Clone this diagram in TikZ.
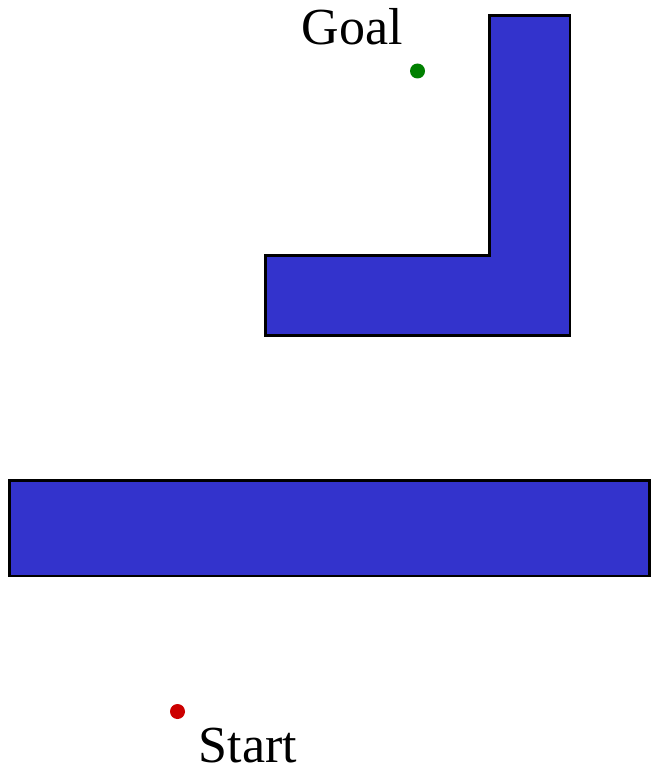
\documentclass[tikz,border=0pt]{standalone}
\usepackage{fontspec}
\setmainfont{Liberation Serif}
\definecolor{obsblue}{HTML}{3333CC}
\definecolor{goalgreen}{HTML}{008000}
\definecolor{startred}{HTML}{CC0000}
\begin{document}
\begin{tikzpicture}[x=1pt,y=-1pt,
  obstacle/.style={draw=black, line width=2.4pt, fill=obsblue, line join=miter},
  lbl/.style={font=\fontsize{52}{60}\selectfont, inner sep=0pt, anchor=base west},
  dot/.style={circle, inner sep=0pt, minimum size=15pt}]
\useasboundingbox (0,0) rectangle (650,765);
\draw[obstacle] (265.5,255.5) -- (489.5,255.5) -- (489.5,15.5) -- (570,15.5) -- (570,335.5) -- (265.5,335.5) -- cycle;
\draw[obstacle] (9.5,480.5) rectangle (649.3,576);
\node[dot, fill=goalgreen] (goal) at (417.5,71) {};
\node[dot, fill=startred] (start) at (177.5,711.5) {};
\node[lbl] (goallabel) at (301.5,45) {Goal};
\node[lbl] (startlabel) at (198.5,762) {Start};
\end{tikzpicture}
\end{document}
